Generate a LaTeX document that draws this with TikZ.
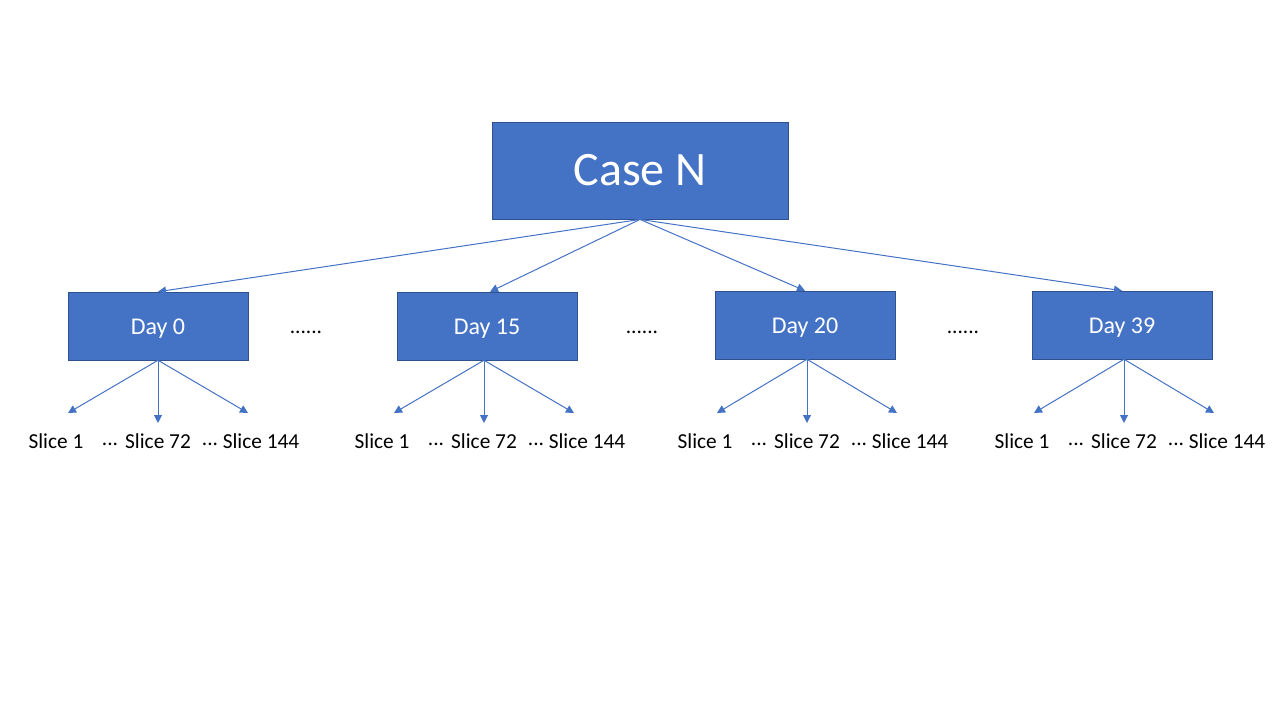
\documentclass[tikz,border=0pt]{standalone}
\usepackage{fontspec}
\setmainfont{Carlito}
\usetikzlibrary{arrows.meta}
\definecolor{boxblue}{HTML}{4472C4}
\definecolor{boxline}{HTML}{2F528F}

\begin{document}
\begin{tikzpicture}[x=0.75pt,y=-0.75pt,
    box/.style={draw=boxline,fill=boxblue,text=white,inner sep=0pt,
      text height=15.6pt,text depth=3.6pt,
      minimum width=135pt,minimum height=51pt,font=\fontsize{18}{22}\selectfont},
    link/.style={color=boxblue,line width=0.75pt,-{Triangle[length=6pt,width=6pt]}},
    lbl/.style={inner sep=0pt,font=\fontsize{16}{19}\selectfont}]
  \useasboundingbox (0,0) rectangle (1280,720);
  \node[box,minimum width=222pt,minimum height=73pt,text height=30.4pt,text depth=7.2pt,
    font=\fontsize{36}{43}\selectfont] (case) at (640,170.5) {Case N};
  \node[box] (d0) at (158,326) {Day 0};
  \node[box] (d15) at (487,326) {Day 15};
  \node[box] (d20) at (805,325) {Day 20};
  \node[box] (d39) at (1122,325) {Day 39};
  \node[lbl] (gap1) at (306,332) {......};
  \node[lbl] (gap2) at (642,332) {......};
  \node[lbl] (gap3) at (963,332) {......};
  \draw[link] (case.south) -- (d0.north);
  \draw[link] (case.south) -- ([xshift=2.25pt]d15.north);
  \draw[link] (case.south) -- (d20.north);
  \draw[link] (case.south) -- (d39.north);
  % slices under every day
  \foreach \d/\x in {d0/158, d15/484, d20/807, d39/1124} {
    \coordinate (\d-a1) at (\x-90,413);
    \coordinate (\d-a2) at (\x,423);
    \coordinate (\d-a3) at (\x+90,413);
    \node[lbl] (\d-s1) at (\x-102,441) {Slice 1};
    \node[lbl] (\d-p1) at (\x-48,444) {...};
    \node[lbl] (\d-s2) at (\x,441) {Slice 72};
    \node[lbl] (\d-p2) at (\x+52,444) {...};
    \node[lbl] (\d-s3) at (\x+103,441) {Slice 144};
    \draw[link] (\d.south -| \d-a2) -- (\d-a1);
    \draw[link] (\d.south -| \d-a2) -- (\d-a2);
    \draw[link] (\d.south -| \d-a2) -- (\d-a3);
  }
\end{tikzpicture}
\end{document}
